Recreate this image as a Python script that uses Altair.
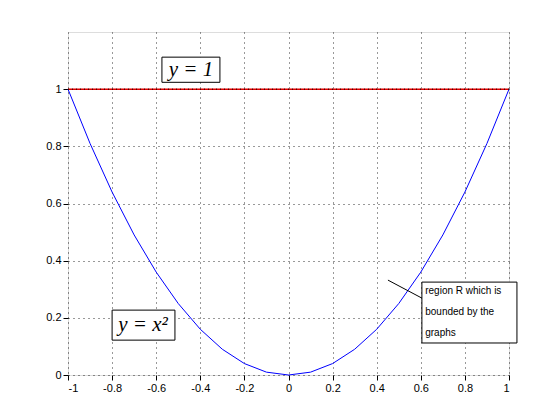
import altair as alt
import pandas as pd

xs = [-1.0,-0.9,-0.8,-0.7,-0.6,-0.5,-0.4,-0.3,-0.2,-0.1,0.0,0.1,0.2,0.3,0.4,0.5,0.6,0.7,0.8,0.9,1.0]
ys = [1.0,0.81,0.64,0.49,0.36,0.25,0.16,0.09,0.04,0.01,0.0,0.01,0.04,0.09,0.16,0.25,0.36,0.49,0.64,0.81,1.0]
line_x = [-1.0, 1.0]
line_y = [1.0, 1.0]
xticks = [-1,-0.8,-0.6,-0.4,-0.2,0,0.2,0.4,0.6,0.8,1]
yticks = [0,0.2,0.4,0.6,0.8,1]

curve = pd.DataFrame({"x": xs, "y": ys})
hline = pd.DataFrame({"x": line_x, "y": line_y})
boxes = pd.DataFrame({
    "x": [-0.574, -0.80, 0.605], "x2": [-0.311, -0.515, 1.036],
    "y": [1.112, 0.227, 0.325], "y2": [1.024, 0.122, 0.112]})
labels = pd.DataFrame({"x": [-0.442, -0.66], "y": [1.068, 0.175], "t": ["y = 1", "y = x²"]})
ann = pd.DataFrame({"x": [0.62], "y": [0.31], "t": ["region R which is\nbounded by the\ngraphs"]})
pointer = pd.DataFrame({"x": [0.451], "y": [0.332], "x2": [0.605], "y2": [0.269]})

lab = "toString(datum.value)"
X = alt.X("x:Q", scale=alt.Scale(domain=[-1, 1], nice=False),
          axis=alt.Axis(values=xticks, title=None, grid=True, gridDash=[1, 4], gridColor="black",
                        gridOpacity=0.8, domain=False, tickColor="black", labelColor="black",
                        labelFont="Liberation Sans", labelFontSize=11, labelExpr=lab))
Y = alt.Y("y:Q", scale=alt.Scale(domain=[0, 1.2], nice=False),
          axis=alt.Axis(values=yticks, title=None, grid=True, gridDash=[1, 4], gridColor="black",
                        gridOpacity=0.8, domain=False, tickColor="black", labelColor="black",
                        labelFont="Liberation Sans", labelFontSize=11, labelExpr=lab))

c1 = alt.Chart(curve).mark_line(color="#0000ff", strokeWidth=1).encode(x=X, y=Y)
c2 = alt.Chart(hline).mark_line(color="#e00000", strokeWidth=1.5).encode(x=X, y=Y)
c2b = alt.Chart(hline).mark_line(color="#000000", strokeWidth=1, strokeDash=[1, 3]).encode(x=X, y=Y)
c3 = alt.Chart(boxes).mark_rect(fill="white", stroke="black", strokeWidth=1).encode(
    x=X, x2="x2:Q", y=Y, y2="y2:Q")
c4 = alt.Chart(labels).mark_text(font="Liberation Serif", fontStyle="italic", fontSize=21,
                                  color="black").encode(x=X, y=Y, text="t:N")
c5 = alt.Chart(ann).mark_text(font="Liberation Sans", fontSize=10, align="left",
                               baseline="top", lineBreak="\n", lineHeight=21, color="black"
                               ).encode(x=X, y=Y, text="t:N")
c6 = alt.Chart(pointer).mark_rule(color="black").encode(x=X, y=Y, x2="x2:Q", y2="y2:Q")

chart = alt.layer(c1, c2, c2b, c6, c3, c4, c5).properties(
    width=441, height=343, autosize="none",
    padding={"left": 60, "top": 24, "right": 43, "bottom": 37},
).configure_view(stroke="black", strokeWidth=1).configure(background="white")

chart.save("out.html", embed_options={"renderer": "svg", "actions": False})
